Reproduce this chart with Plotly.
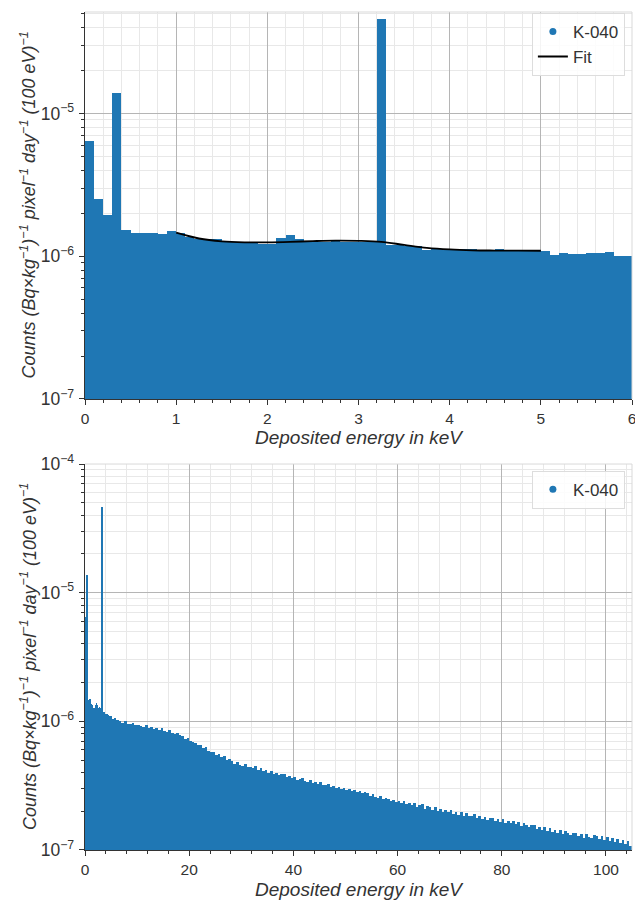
import plotly.graph_objects as go

# ---------------- data ----------------
UNIT = 1e-6            # values below are in units of 1e-6 counts
FINE_WIDTH = 0.1       # keV, bins 0-6 keV
COARSE_WIDTH = 0.5     # keV, bins 6-105 keV
COARSE_START = 6.0

# 0-6 keV spectrum, 100 eV bins
low_energy_counts = [
    6.45, 2.50, 1.95, 13.8, 1.53, 1.46, 1.46, 1.45, 1.43, 1.49,
    1.45, 1.37, 1.33, 1.33, 1.33, 1.25, 1.26, 1.25, 1.26, 1.21,
    1.21, 1.35, 1.40, 1.33, 1.25, 1.25, 1.26, 1.30, 1.25, 1.26,
    1.26, 1.25, 46.0, 1.20, 1.19, 1.18, 1.18, 1.10, 1.13, 1.13,
    1.13, 1.12, 1.13, 1.10, 1.10, 1.12, 1.10, 1.10, 1.10, 1.10,
    1.08, 1.02, 1.045, 1.035, 1.035, 1.045, 1.045, 1.065, 1.01, 1.01,
]

# 6-105 keV spectrum (read at 0.5 keV resolution)
high_energy_counts = [
    1.02, 1.00, 0.97, 1.00, 0.96, 0.95, 0.97, 0.93,
    0.94, 0.92, 0.91, 0.93, 0.89, 0.90, 0.87, 0.89,
    0.86, 0.88, 0.84, 0.83, 0.85, 0.81, 0.80, 0.81,
    0.78, 0.77, 0.73, 0.74, 0.70, 0.69, 0.68, 0.65,
    0.65, 0.62, 0.63, 0.59, 0.58, 0.58, 0.55, 0.56,
    0.53, 0.54, 0.50, 0.51, 0.49, 0.47, 0.48, 0.46,
    0.45, 0.47, 0.44, 0.44, 0.43, 0.45, 0.42, 0.43,
    0.41, 0.42, 0.40, 0.41, 0.39, 0.40, 0.38, 0.39,
    0.39, 0.37, 0.375, 0.36, 0.37, 0.35, 0.355, 0.36,
    0.345, 0.34, 0.35, 0.33, 0.335, 0.325, 0.335, 0.32,
    0.32, 0.325, 0.31, 0.315, 0.305, 0.31, 0.30, 0.305,
    0.295, 0.30, 0.285, 0.29, 0.28, 0.285, 0.275, 0.28,
    0.275, 0.265, 0.27, 0.26, 0.255, 0.265, 0.25, 0.255,
    0.25, 0.24, 0.245, 0.235, 0.24, 0.23, 0.24, 0.228,
    0.23, 0.222, 0.23, 0.215, 0.222, 0.226, 0.21, 0.218,
    0.215, 0.206, 0.214, 0.202, 0.21, 0.198, 0.206, 0.196,
    0.203, 0.191, 0.198, 0.188, 0.196, 0.184, 0.193, 0.185,
    0.184, 0.19, 0.178, 0.184, 0.174, 0.182, 0.172, 0.178,
    0.176, 0.168, 0.175, 0.164, 0.173, 0.163, 0.168, 0.161,
    0.167, 0.158, 0.164, 0.153, 0.161, 0.157, 0.15, 0.156,
    0.155, 0.146, 0.152, 0.143, 0.15, 0.14, 0.148, 0.139,
    0.144, 0.136, 0.142, 0.132, 0.14, 0.135, 0.131, 0.135,
    0.135, 0.128, 0.134, 0.125, 0.132, 0.127, 0.124, 0.13,
    0.129, 0.122, 0.128, 0.119, 0.126, 0.117, 0.124, 0.116,
    0.122, 0.114, 0.12, 0.111, 0.117, 0.108,
]

# fit curve (1-5 keV)
fit_energy = [1.0, 1.25, 1.5, 1.75, 2.0, 2.25, 2.5, 2.75, 3.0,
              3.25, 3.5, 3.75, 4.0, 4.25, 4.5, 4.75, 5.0]
fit_counts = [1.46, 1.33, 1.27, 1.25, 1.25, 1.26, 1.275, 1.285, 1.28,
              1.26, 1.20, 1.145, 1.115, 1.10, 1.095, 1.093, 1.092]

series_name = "K-040"
fit_name = "Fit"

# ---------------- derived positions ----------------
low_x = [FINE_WIDTH * (i + 0.5) for i in range(len(low_energy_counts))]
low_y = [v * UNIT for v in low_energy_counts]
high_x = [COARSE_START + COARSE_WIDTH * (i + 0.5) for i in range(len(high_energy_counts))]
high_y = [v * UNIT for v in high_energy_counts]
fit_y = [v * UNIT for v in fit_counts]

BLUE = "#1f77b4"
TXT = "#333333"
FONT = "Liberation Sans, Arial, sans-serif"
MAJOR_GRID = "#b5b5b5"
MINOR_GRID = "#e8e8e8"

TOP_DOMAIN = [0.5382, 1.0]
BOTTOM_DOMAIN = [0.0, 0.4606]

fig = go.Figure()

# ---- top panel ----
fig.add_trace(go.Bar(x=low_x, y=low_y, width=FINE_WIDTH, marker=dict(color=BLUE, line=dict(width=0)),
                     showlegend=False, xaxis="x", yaxis="y"))
fig.add_trace(go.Scatter(x=[None], y=[None], mode="markers", marker=dict(color=BLUE, size=7),
                         name=series_name, xaxis="x", yaxis="y", legend="legend"))
fig.add_trace(go.Scatter(x=fit_energy, y=fit_y, mode="lines", line=dict(color="black", width=1.8, shape="spline"),
                         name=fit_name, xaxis="x", yaxis="y", legend="legend"))

# ---- bottom panel ----
fig.add_trace(go.Bar(x=low_x, y=low_y, width=FINE_WIDTH, marker=dict(color=BLUE, line=dict(width=0)),
                     showlegend=False, xaxis="x2", yaxis="y2"))
fig.add_trace(go.Bar(x=high_x, y=high_y, width=COARSE_WIDTH, marker=dict(color=BLUE, line=dict(width=0)),
                     showlegend=False, xaxis="x2", yaxis="y2"))
fig.add_trace(go.Scatter(x=[None], y=[None], mode="markers", marker=dict(color=BLUE, size=7),
                         name=series_name, xaxis="x2", yaxis="y2", legend="legend2"))

ytitle = ("<i>Counts (Bq×kg<sup>−1</sup>)<sup>−1</sup> pixel<sup>−1</sup> "
          "day<sup>−1</sup> (100 eV)<sup>−1</sup></i>")
xtitle = "<i>Deposited energy in keV</i>"

def xaxis_cfg(rng, dtick, minor_dtick, anchor):
    return dict(
        range=rng, dtick=dtick, tick0=0, anchor=anchor, automargin=False,
        showline=True, linecolor=TXT, linewidth=1.2,
        ticks="outside", ticklen=5, tickwidth=1.2, tickcolor=TXT,
        showgrid=True, gridcolor=MAJOR_GRID, gridwidth=1, zeroline=False,
        minor=dict(dtick=minor_dtick, tick0=0, ticks="outside", ticklen=3, tickcolor=TXT,
                   showgrid=True, gridcolor=MINOR_GRID, gridwidth=1),
        tickfont=dict(size=15.5, color=TXT),
        title=dict(text=xtitle, font=dict(size=19, color=TXT), standoff=5),
    )

def yaxis_cfg(rng, domain, anchor):
    return dict(
        type="log", range=rng, domain=domain, anchor=anchor, dtick=1, automargin=False,
        exponentformat="power",
        showline=True, linecolor=TXT, linewidth=1.2,
        ticks="outside", ticklen=5, tickwidth=1.2, tickcolor=TXT,
        showgrid=True, gridcolor=MAJOR_GRID, gridwidth=1, zeroline=False,
        minor=dict(dtick="D1", ticks="outside", ticklen=3, tickcolor=TXT,
                   showgrid=True, gridcolor=MINOR_GRID, gridwidth=1),
        tickfont=dict(size=14, color=TXT), ticklabelstandoff=2,
    )

legend_style = dict(bgcolor="rgba(255,255,255,0.85)", bordercolor="#dddddd", borderwidth=1,
                    font=dict(size=17, color=TXT, family=FONT), xanchor="right", yanchor="top",
                    itemwidth=30, tracegroupgap=0)

ytitle_x = -0.104  # paper x of the rotated y titles (left of the tick labels)

fig.update_layout(
    width=635, height=894,
    margin=dict(l=77, r=11, t=4, b=52, autoexpand=False),
    paper_bgcolor="white", plot_bgcolor="white",
    font=dict(family=FONT, color=TXT),
    bargap=0, barmode="overlay",
    xaxis=xaxis_cfg([0, 6], 1, 0.2, "y"),
    yaxis=yaxis_cfg([-7, -4.29], TOP_DOMAIN, "x"),
    xaxis2=xaxis_cfg([0, 105], 20, 4, "y2"),
    yaxis2=yaxis_cfg([-7, -4], BOTTOM_DOMAIN, "x2"),
    legend=dict(x=0.987, y=0.999, **legend_style),
    legend2=dict(x=0.987, y=0.4526, **legend_style),
    annotations=[
        dict(text=ytitle, textangle=-90, xref="paper", yref="paper", x=ytitle_x,
             y=sum(TOP_DOMAIN) / 2, xanchor="center", yanchor="middle", showarrow=False,
             font=dict(size=18, color=TXT)),
        dict(text=ytitle, textangle=-90, xref="paper", yref="paper", x=ytitle_x,
             y=sum(BOTTOM_DOMAIN) / 2, xanchor="center", yanchor="middle", showarrow=False,
             font=dict(size=18, color=TXT)),
    ],
    shapes=[
        dict(type="line", xref="x domain", yref="y domain", x0=0, x1=1, y0=1, y1=1,
             line=dict(color="#d9d9d9", width=1)),
        dict(type="line", xref="x domain", yref="y domain", x0=1, x1=1, y0=0, y1=1,
             line=dict(color="#d9d9d9", width=1)),
        dict(type="line", xref="x2 domain", yref="y2 domain", x0=0, x1=1, y0=1, y1=1,
             line=dict(color="#d9d9d9", width=1)),
        dict(type="line", xref="x2 domain", yref="y2 domain", x0=1, x1=1, y0=0, y1=1,
             line=dict(color="#d9d9d9", width=1)),
    ],
)

fig.write_html("out.html")
